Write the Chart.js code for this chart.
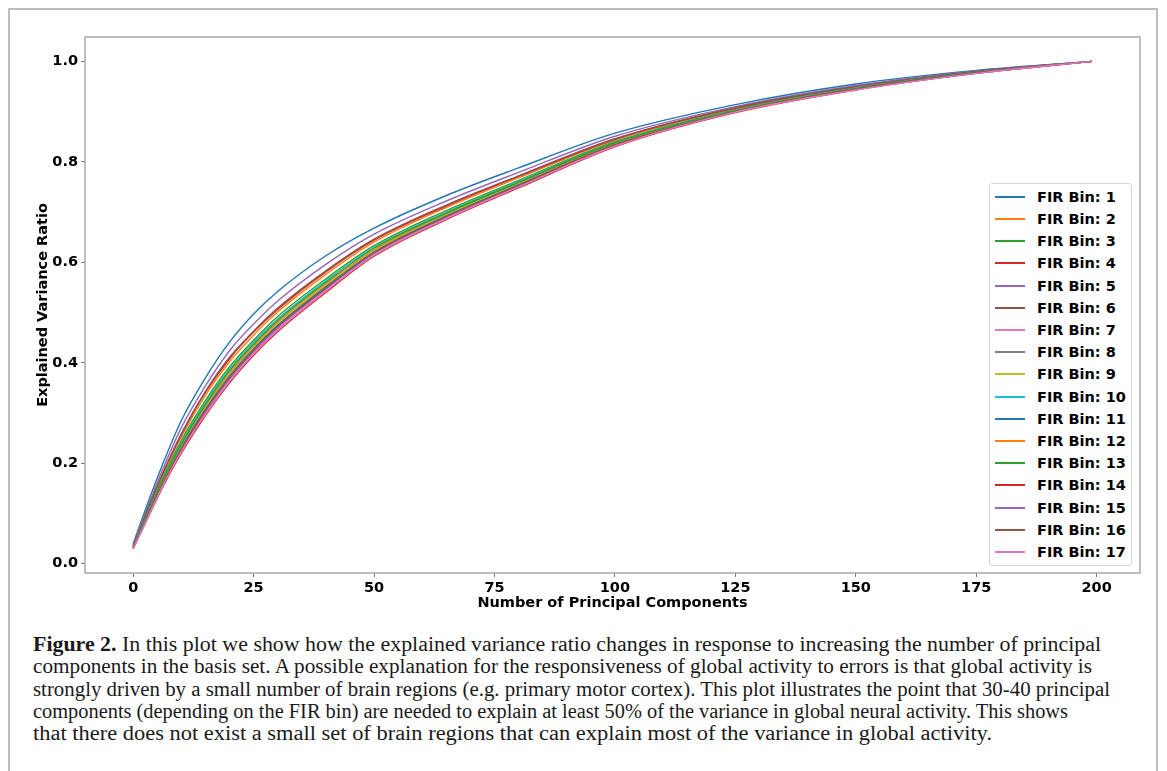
<!DOCTYPE html>
<html>
<head>
<meta charset="utf-8">
<script src="https://cdn.jsdelivr.net/npm/chart.js@4.4.1/dist/chart.umd.min.js"></script>
<style>
	html, body { margin: 0; padding: 0; background: #fff; }
	#frame {
		position: absolute; left: 8px; top: 8px; width: 1150px; height: 800px;
		border: 2px solid #bdbdbd; border-bottom: none; box-sizing: border-box;
	}
	#chart-wrap { position: absolute; left: 0; top: 0; width: 1167px; height: 616px; }
	#legend {
		position: absolute; left: 989px; top: 183px; width: 143px; height: 383px;
		border: 1px solid #d6d6d6; border-radius: 3px; background: #fff; box-sizing: border-box;
		font: bold 14.5px "DejaVu Sans", sans-serif; color: #000;
	}
	.row { position: absolute; left: 0; height: 22px; line-height: 22px; white-space: nowrap; }
	.swatch { position: absolute; left: 5px; top: 10px; width: 30px; height: 2px; }
	.txt { position: absolute; left: 47px; top: 0; }
	#caption {
		position: absolute; left: 33px; top: 633px;
		font: 20px "Liberation Serif", "DejaVu Serif", serif; color: #1a1a1a;
		line-height: 22.3px;
	}
	#caption div { white-space: nowrap; width: max-content; transform-origin: 0 50%; }
</style>
</head>
<body>
<div id="frame"></div>
<div id="chart-wrap"><canvas id="chart-pca"></canvas></div>
<div id="legend"></div>
<div id="caption">
	<div data-w="1068"><b>Figure 2.</b> In this plot we show how the explained variance ratio changes in response to increasing the number of principal</div>
	<div data-w="1059">components in the basis set. A possible explanation for the responsiveness of global activity to errors is that global activity is</div>
	<div data-w="1077">strongly driven by a small number of brain regions (e.g. primary motor cortex). This plot illustrates the point that 30-40 principal</div>
	<div data-w="1035">components (depending on the FIR bin) are needed to explain at least 50% of the variance in global neural activity. This shows</div>
	<div data-w="959">that there does not exist a small set of brain regions that can explain most of the variance in global activity.</div>
</div>
<script>
// Number of principal components (sampled positions along the curves)
const components = [0, 3, 6, 10, 15, 20, 25, 30, 40, 50, 65, 80, 100, 125, 150, 175, 199];

// Cumulative explained variance ratio per FIR bin
const bin1  = [0.040, 0.120, 0.195, 0.285, 0.370, 0.441, 0.497, 0.542, 0.613, 0.668, 0.733, 0.788, 0.857, 0.914, 0.955, 0.982, 1.0];
const bin2  = [0.035, 0.105, 0.172, 0.252, 0.335, 0.402, 0.455, 0.501, 0.576, 0.640, 0.709, 0.768, 0.843, 0.906, 0.949, 0.979, 1.0];
const bin3  = [0.034, 0.101, 0.167, 0.245, 0.325, 0.392, 0.445, 0.492, 0.567, 0.633, 0.703, 0.763, 0.840, 0.904, 0.948, 0.978, 1.0];
const bin4  = [0.036, 0.107, 0.176, 0.257, 0.341, 0.408, 0.461, 0.506, 0.581, 0.644, 0.712, 0.771, 0.845, 0.907, 0.950, 0.979, 1.0];
const bin5  = [0.038, 0.113, 0.185, 0.271, 0.354, 0.424, 0.477, 0.523, 0.596, 0.656, 0.722, 0.779, 0.851, 0.910, 0.952, 0.981, 1.0];
const bin6  = [0.036, 0.108, 0.177, 0.259, 0.343, 0.411, 0.463, 0.509, 0.583, 0.646, 0.714, 0.772, 0.846, 0.908, 0.950, 0.980, 1.0];
const bin7  = [0.031, 0.092, 0.153, 0.225, 0.301, 0.366, 0.421, 0.467, 0.545, 0.616, 0.688, 0.751, 0.832, 0.899, 0.944, 0.976, 1.0];
const bin8  = [0.032, 0.095, 0.158, 0.231, 0.309, 0.374, 0.429, 0.475, 0.552, 0.622, 0.693, 0.755, 0.835, 0.901, 0.945, 0.977, 1.0];
const bin9  = [0.032, 0.096, 0.159, 0.233, 0.311, 0.377, 0.431, 0.478, 0.554, 0.623, 0.695, 0.756, 0.835, 0.901, 0.945, 0.977, 1.0];
const bin10 = [0.033, 0.100, 0.164, 0.241, 0.321, 0.387, 0.441, 0.487, 0.563, 0.630, 0.700, 0.761, 0.839, 0.903, 0.947, 0.978, 1.0];
const bin11 = [0.031, 0.094, 0.157, 0.230, 0.307, 0.373, 0.427, 0.474, 0.551, 0.620, 0.692, 0.754, 0.834, 0.900, 0.945, 0.977, 1.0];
const bin12 = [0.032, 0.097, 0.161, 0.236, 0.314, 0.380, 0.434, 0.481, 0.557, 0.625, 0.697, 0.758, 0.836, 0.902, 0.946, 0.977, 1.0];
const bin13 = [0.033, 0.098, 0.163, 0.238, 0.317, 0.384, 0.437, 0.484, 0.560, 0.628, 0.698, 0.759, 0.838, 0.902, 0.946, 0.978, 1.0];
const bin14 = [0.030, 0.090, 0.150, 0.220, 0.295, 0.360, 0.415, 0.462, 0.540, 0.612, 0.685, 0.748, 0.830, 0.898, 0.943, 0.976, 1.0];
const bin15 = [0.031, 0.093, 0.154, 0.226, 0.303, 0.368, 0.423, 0.470, 0.547, 0.618, 0.690, 0.752, 0.833, 0.900, 0.944, 0.977, 1.0];
const bin16 = [0.031, 0.094, 0.156, 0.228, 0.305, 0.371, 0.425, 0.472, 0.549, 0.619, 0.691, 0.753, 0.834, 0.900, 0.945, 0.977, 1.0];
const bin17 = [0.030, 0.091, 0.152, 0.223, 0.298, 0.363, 0.418, 0.465, 0.543, 0.614, 0.687, 0.750, 0.831, 0.899, 0.943, 0.976, 1.0];

const binSeries = [bin1, bin2, bin3, bin4, bin5, bin6, bin7, bin8, bin9, bin10, bin11, bin12, bin13, bin14, bin15, bin16, bin17];
const binLabels = binSeries.map((_, i) => "FIR Bin: " + (i + 1));
const binColors = ["#1f77b4", "#ff7f0e", "#2ca02c", "#d62728", "#9467bd", "#8c564b", "#e377c2", "#7f7f7f", "#bcbd22", "#17becf"];

// Tick labels
const xTicks = [0, 25, 50, 75, 100, 125, 150, 175, 200];
const yTicks = [0.0, 0.2, 0.4, 0.6, 0.8, 1.0];

const FONT = { family: "'DejaVu Sans', sans-serif", size: 14.5, weight: "bold" };
const SPINE = "#a9a9a9";

const colorOf = (i) => binColors[i % binColors.length];

// Axes frame drawn over the lines, like matplotlib spines
const spines = {
	id: "spines",
	afterDraw(chart) {
		const { ctx, chartArea: a } = chart;
		ctx.save();
		ctx.strokeStyle = SPINE;
		ctx.lineWidth = 1.5;
		ctx.strokeRect(a.left, a.top, a.right - a.left, a.bottom - a.top);
		ctx.restore();
	},
};

const DATA = {
	datasets: binSeries.map((series, i) => ({
		label: binLabels[i],
		data: series.map((v, j) => ({ x: components[j], y: v })),
		borderColor: colorOf(i),
		borderWidth: 1.4,
		pointRadius: 0,
		cubicInterpolationMode: "monotone",
		order: binSeries.length - i,
	})),
};

const CONFIG = {
	type: "line",
	data: DATA,
	plugins: [spines],
	options: {
		animation: false,
		responsive: true,
		maintainAspectRatio: false,
		layout: { padding: { left: 31, top: 37, right: 27, bottom: 0 } },
		plugins: { legend: { display: false }, tooltip: { enabled: false } },
		scales: {
			x: {
				type: "linear",
				min: -10,
				max: 209,
				afterBuildTicks: (scale) => { scale.ticks = xTicks.map((v) => ({ value: v })); },
				afterFit: (scale) => { scale.height = 43; },
				border: { display: false },
				grid: { drawOnChartArea: false, drawTicks: true, tickLength: 4, tickColor: "#777" },
				ticks: { font: FONT, color: "#000", padding: 3, maxRotation: 0 },
				title: { display: true, text: "Number of Principal Components", font: FONT, color: "#000", padding: 4 },
			},
			y: {
				min: -0.0185,
				max: 1.0485,
				afterBuildTicks: (scale) => { scale.ticks = yTicks.map((v) => ({ value: v })); },
				afterFit: (scale) => { scale.width = 54; },
				border: { display: false },
				grid: { drawOnChartArea: false, drawTicks: true, tickLength: 4, tickColor: "#777" },
				ticks: { font: FONT, color: "#000", padding: 3, callback: (v) => v.toFixed(1) },
				title: { display: true, text: "Explained Variance Ratio", font: FONT, color: "#000", padding: 4 },
			},
		},
	},
};

new Chart(document.getElementById("chart-pca"), CONFIG);

// Legend box inside the plot, matplotlib style
const LEGEND = document.getElementById("legend");
binLabels.forEach((label, i) => {
	const row = document.createElement("div");
	row.className = "row";
	row.style.top = (1.7 + i * 22.2) + "px";
	row.innerHTML = '<span class="swatch" style="background:' + colorOf(i) + '"></span><span class="txt">' + label + "</span>";
	LEGEND.appendChild(row);
});

// Fit each caption line to the width it has in the printed figure
document.querySelectorAll("#caption div").forEach((line) => {
	const natural = line.getBoundingClientRect().width;
	line.style.transform = "scaleX(" + (Number(line.dataset.w) / natural) + ")";
});
</script>
</body>
</html>
